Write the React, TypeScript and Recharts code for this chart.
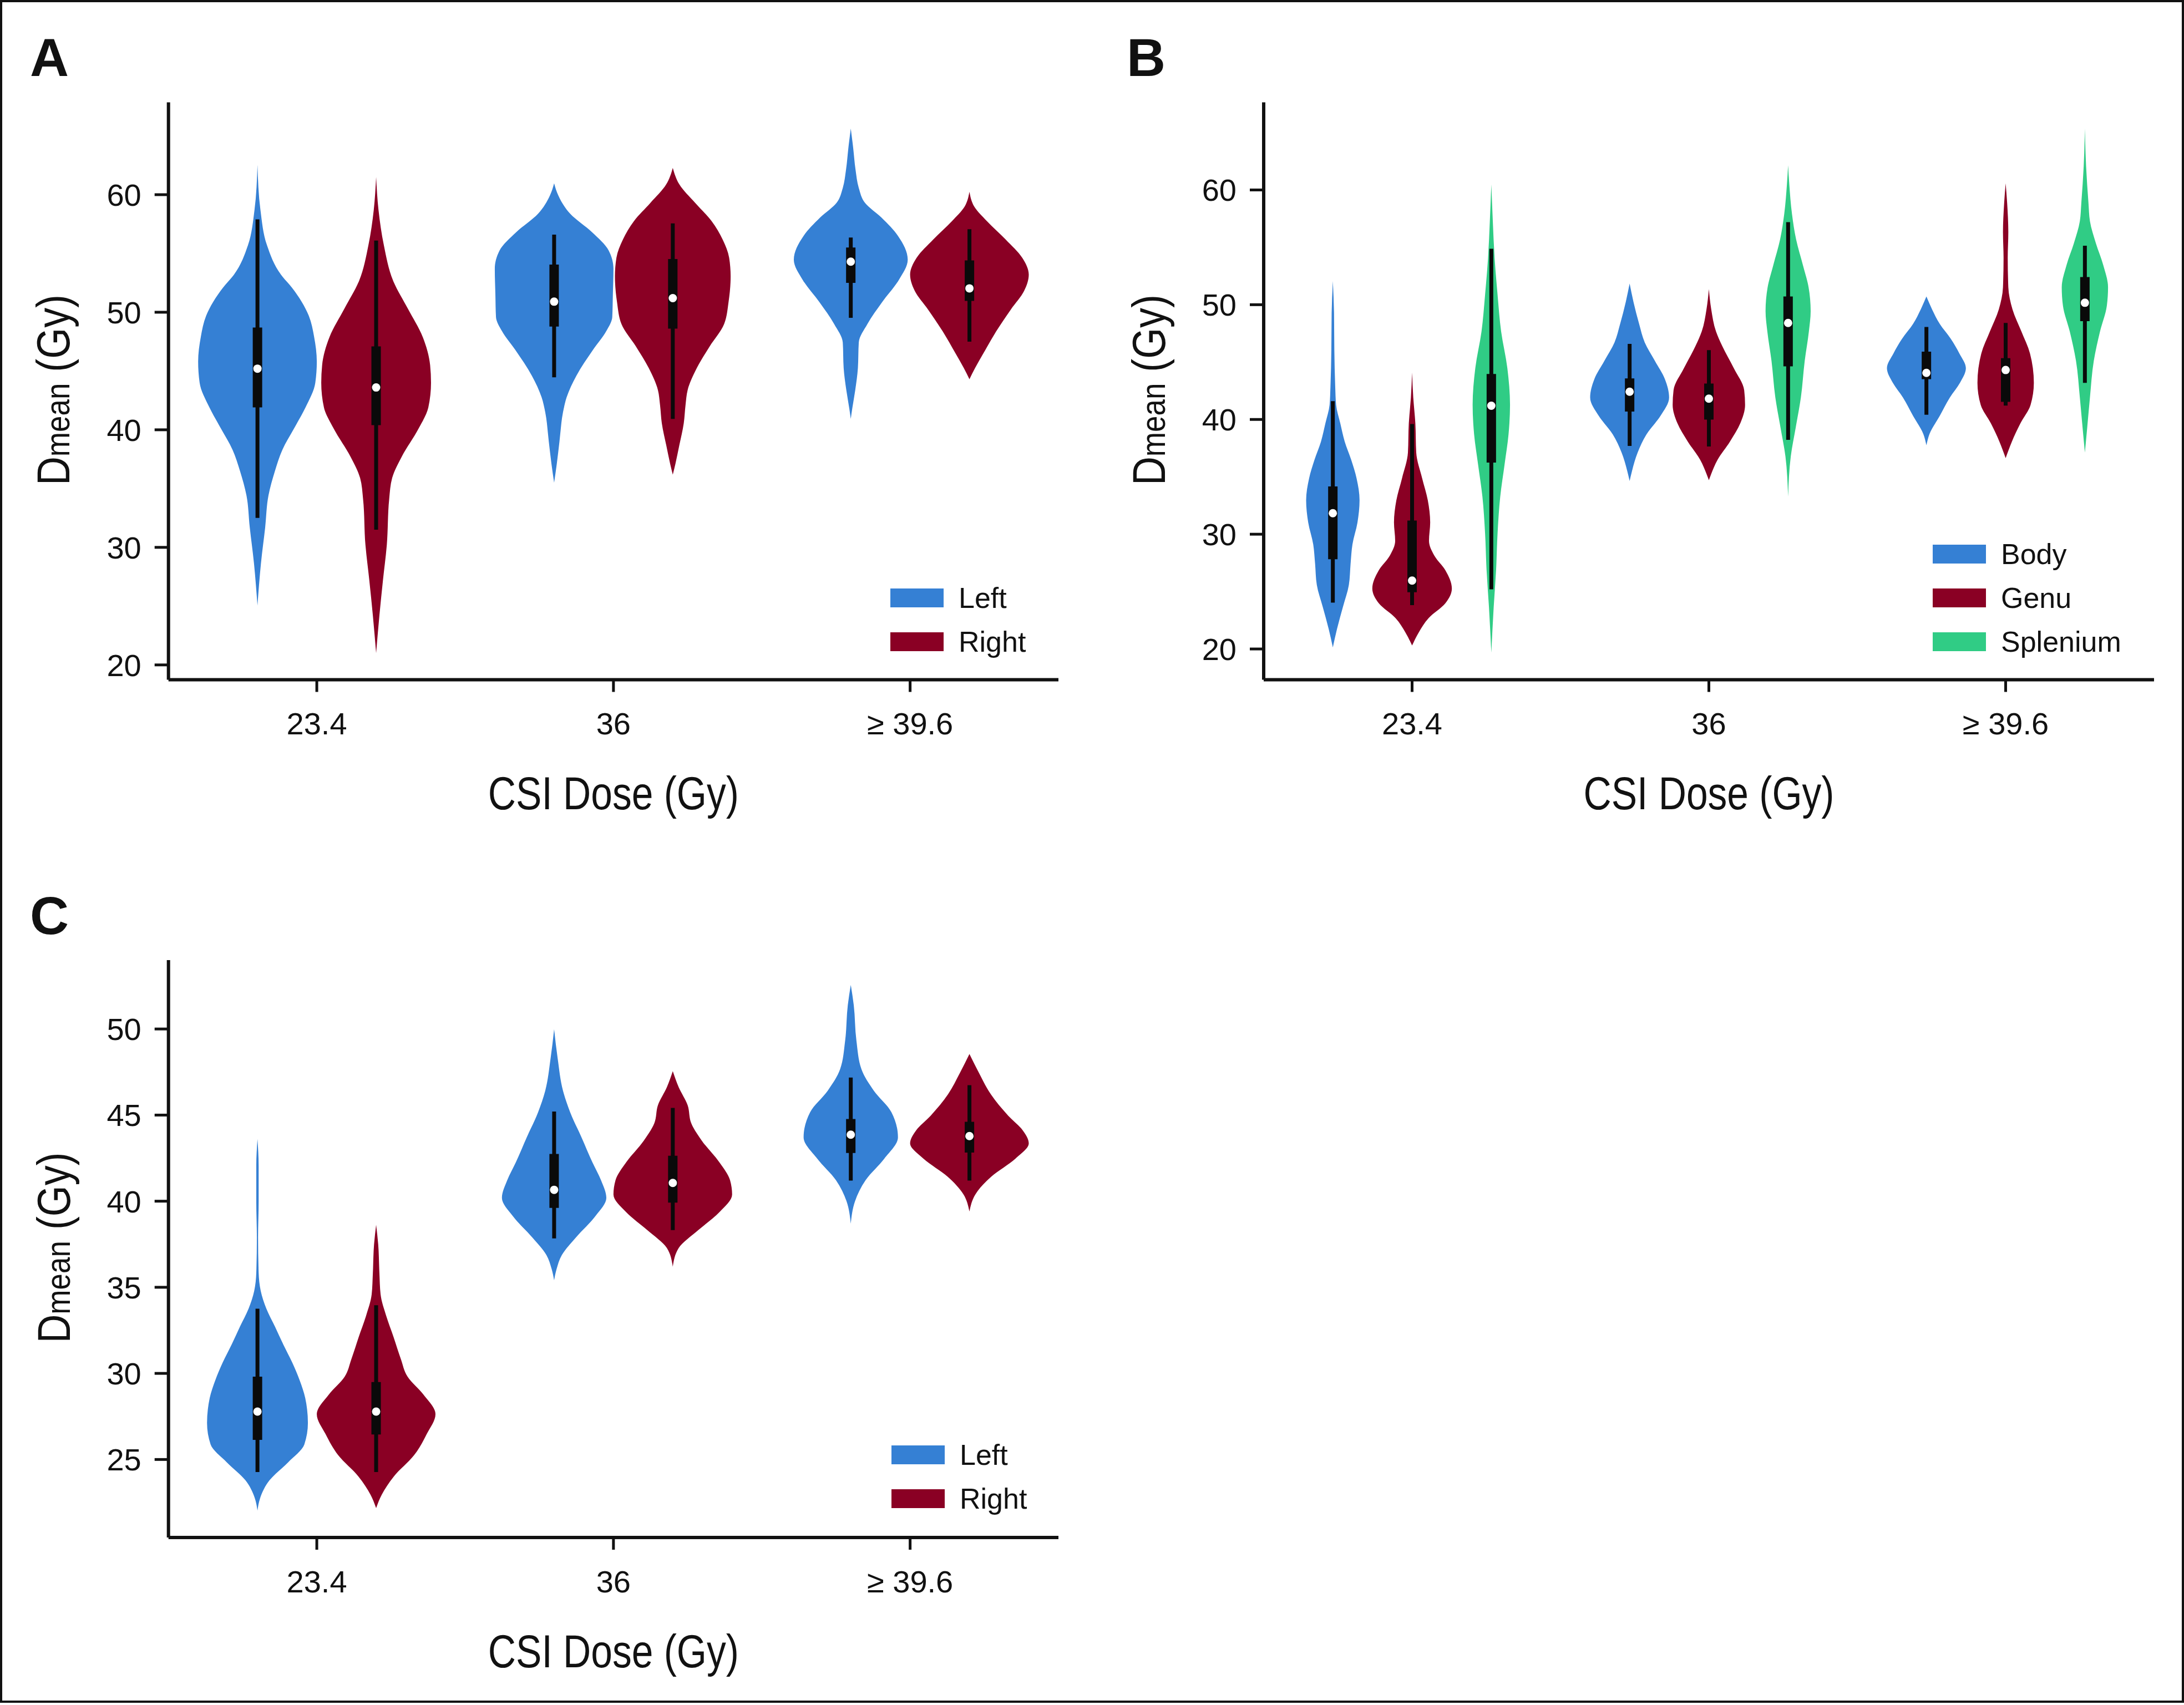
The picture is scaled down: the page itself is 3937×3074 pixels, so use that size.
import React from 'react';
import { ComposedChart, Area, Line, XAxis, YAxis, Legend, Label } from 'recharts';

const FONT = "'Liberation Sans', Arial, Helvetica, sans-serif";
const INK = '#111111';
const BOX = '#0a0a0a';
const BLUE = '#3580d4';
const RED = '#8a0024';
const GREEN = '#30cc85';

// ---------- categories / labels ----------
const DOSE_LABELS = ['23.4', '36', '≥ 39.6'];
const DOSE_INDEX = [0, 1, 2];
const SIDE_NAMES = ['Left', 'Right'];
const REGION_NAMES = ['Body', 'Genu', 'Splenium'];
const AB_TICKS = [20, 30, 40, 50, 60];
const C_TICKS = [25, 30, 35, 40, 45, 50];

// ---------- violin outlines: [Dmean (Gy), half width (category units)] ----------
// Panel A
const A_LEFT_234 = [[62.55,0],[58.7,0.010],[55.7,0.032],[53.2,0.079],[52.1,0.116],[49.7,0.173],[47.9,0.191],[45.8,0.200],[44.0,0.195],[41.9,0.162],[40.1,0.123],[38.3,0.084],[36.5,0.059],[34.4,0.037],[31.7,0.026],[28.7,0.012],[25.05,0]];
const A_LEFT_36 = [[60.97,0],[59.94,0.014],[58.38,0.054],[56.8,0.128],[55.25,0.184],[53.69,0.2],[51.5,0.198],[49.6,0.196],[48.4,0.176],[46.8,0.131],[44.6,0.075],[42.75,0.042],[41.5,0.030],[39.0,0.018],[37.1,0.009],[35.5,0]];
const A_LEFT_396 = [[65.63,0],[64.0,0.008],[62.13,0.016],[60.57,0.027],[59.3,0.048],[58.06,0.103],[56.5,0.159],[54.47,0.192],[52.75,0.162],[50.87,0.106],[49.0,0.056],[47.44,0.027],[45.25,0.024],[43.37,0.015],[41.81,0.005],[40.93,0]];
const A_RIGHT_234 = [[61.5,0],[58.7,0.008],[55.7,0.026],[52.7,0.057],[50.3,0.107],[47.9,0.157],[45.5,0.182],[44.0,0.185],[41.9,0.176],[40.1,0.143],[37.7,0.086],[35.9,0.054],[34.1,0.044],[30.2,0.036],[27.2,0.023],[24.2,0.011],[21.0,0]];
const A_RIGHT_36 = [[62.28,0],[60.88,0.022],[59.31,0.075],[57.75,0.131],[56.19,0.168],[54.63,0.19],[53.06,0.195],[50.87,0.188],[49.0,0.173],[47.12,0.125],[45.25,0.081],[43.37,0.05],[42.12,0.043],[40.56,0.037],[38.68,0.022],[37.12,0.009],[36.18,0]];
const A_RIGHT_396 = [[60.25,0],[59.0,0.016],[57.75,0.059],[56.19,0.122],[54.63,0.178],[53.2,0.2],[51.8,0.184],[50.25,0.14],[48.37,0.09],[46.5,0.047],[45.25,0.019],[44.3,0]];

// Panel B
const B_BODY_234 = [[52.06,0],[49.28,0.004],[46.07,0.005],[42.87,0.008],[41.27,0.011],[39.67,0.025],[38.07,0.04],[36.47,0.062],[34.87,0.08],[32.95,0.09],[31.02,0.083],[29.1,0.066],[27.5,0.06],[25.58,0.054],[23.66,0.034],[21.74,0.014],[20.14,0]];
const B_BODY_36 = [[51.84,0],[50.24,0.013],[48.32,0.032],[46.71,0.051],[45.11,0.085],[43.51,0.119],[41.91,0.133],[40.31,0.104],[38.71,0.057],[37.11,0.027],[35.51,0.008],[34.64,0]];
const B_BODY_396 = [[50.72,0],[49.6,0.019],[48.32,0.045],[47.03,0.082],[45.75,0.111],[44.47,0.133],[43.19,0.113],[41.91,0.079],[40.31,0.045],[38.71,0.01],[37.75,0]];
const B_GENU_234 = [[44.09,0],[41.91,0.004],[39.67,0.011],[37.11,0.014],[34.87,0.034],[32.95,0.053],[31.02,0.061],[29.42,0.057],[28.14,0.075],[26.86,0.112],[25.26,0.134],[23.98,0.112],[22.7,0.056],[21.42,0.022],[20.3,0]];
const B_GENU_36 = [[51.36,0],[49.6,0.008],[47.67,0.024],[46.4,0.045],[44.47,0.084],[42.55,0.119],[41.27,0.122],[39.67,0.106],[38.07,0.071],[36.47,0.029],[35.19,0.007],[34.71,0]];
const B_GENU_396 = [[60.58,0],[58.88,0.005],[56.32,0.009],[54.08,0.007],[51.52,0.009],[49.6,0.023],[47.67,0.053],[45.75,0.082],[43.19,0.095],[41.27,0.084],[39.67,0.05],[38.07,0.021],[36.63,0]];
const B_SPL_234 = [[60.48,0],[57.28,0.005],[54.08,0.011],[50.88,0.021],[47.67,0.033],[44.47,0.054],[41.27,0.063],[38.71,0.058],[36.15,0.045],[33.27,0.03],[30.06,0.021],[26.86,0.016],[23.66,0.008],[19.66,0]];
const B_SPL_36 = [[62.15,0],[60.48,0.004],[57.92,0.013],[55.68,0.027],[53.44,0.05],[51.52,0.069],[49.44,0.076],[47.67,0.07],[45.11,0.056],[41.91,0.043],[39.35,0.026],[36.79,0.009],[33.27,0]];
const B_SPL_396 = [[65.35,0],[62.08,0.004],[58.88,0.012],[57.28,0.017],[55.36,0.037],[53.44,0.062],[51.52,0.078],[49.92,0.074],[47.67,0.051],[45.11,0.03],[41.91,0.017],[39.35,0.008],[37.11,0]];

// Panel C
const C_LEFT_234 = [[43.61,0],[42.05,0.004],[39.98,0.004],[37.9,0.002],[35.83,0.004],[34.79,0.011],[33.76,0.03],[32.72,0.059],[31.68,0.087],[30.64,0.117],[29.61,0.142],[28.57,0.161],[27.12,0.17],[25.87,0.158],[24.83,0.103],[23.8,0.041],[22.76,0.009],[22.03,0]];
const C_LEFT_36 = [[49.98,0],[48.28,0.012],[46.41,0.03],[45.17,0.054],[43.72,0.092],[42.26,0.129],[41.22,0.158],[40.19,0.176],[39.15,0.14],[37.9,0.074],[36.87,0.026],[36.04,0.008],[35.41,0]];
const C_LEFT_396 = [[52.56,0],[51.39,0.01],[49.32,0.019],[47.66,0.036],[46.41,0.078],[45.17,0.137],[43.71,0.159],[42.47,0.113],[41.22,0.05],[39.98,0.014],[38.69,0]];
const C_RIGHT_234 = [[38.63,0],[37.49,0.007],[35.83,0.011],[34.59,0.015],[33.34,0.034],[32.1,0.059],[30.85,0.083],[29.81,0.106],[28.78,0.159],[27.63,0.2],[26.49,0.171],[25.25,0.128],[24.0,0.059],[22.96,0.019],[22.18,0]];
const C_RIGHT_36 = [[47.55,0],[46.62,0.02],[45.58,0.05],[44.54,0.062],[43.51,0.098],[42.26,0.157],[41.22,0.193],[40.39,0.2],[39.36,0.157],[38.32,0.086],[37.28,0.02],[36.2,0]];
const C_RIGHT_396 = [[48.55,0],[47.45,0.032],[46.21,0.072],[44.96,0.131],[44.13,0.179],[43.36,0.2],[42.47,0.155],[41.43,0.074],[40.39,0.02],[39.4,0]];

// ---------- box statistics: [whisker low, Q1, median, Q3, whisker high] per dose ----------
const A_LEFT_STATS = [[32.5,41.9,45.2,48.7,57.9],[44.46,48.78,50.9,54.06,56.6],[49.53,52.5,54.3,55.5,56.35]];
const A_RIGHT_STATS = [[31.5,40.4,43.6,47.1,56.1],[40.93,48.6,51.2,54.53,57.56],[47.5,50.97,52.03,54.41,57.06]];
const B_BODY_STATS = [[24.04,27.82,31.83,34.16,41.59],[37.69,40.69,42.42,43.58,46.59],[40.41,43.51,44.06,45.91,48.06]];
const B_GENU_STATS = [[23.82,24.94,25.96,31.19,39.6],[37.65,39.99,41.81,43.13,46.04],[41.21,41.53,44.31,45.34,48.41]];
const B_SPL_STATS = [[25.2,36.24,41.2,43.96,54.88],[38.23,44.63,48.41,50.72,57.19],[43.19,48.57,50.17,52.41,55.14]];
const C_LEFT_STATS = [[24.27,26.14,27.78,29.81,33.76],[37.84,39.61,40.66,42.74,45.21],[41.2,42.8,43.86,44.77,47.18]];
const C_RIGHT_STATS = [[24.27,26.45,27.78,29.5,33.96],[38.32,39.92,41.06,42.64,45.42],[41.2,42.82,43.78,44.61,46.74]];

// dodge offsets within a dose category
const TWO_OFFSETS = [-0.2, 0.2];
const THREE_OFFSETS = [-0.267, 0, 0.267];

type Violin = { outline: number[][]; stats: number[]; pos: number; color: string };

function makeViolins(outlines: number[][][][], stats: number[][][], offsets: number[], colors: string[]): Violin[] {
  const out: Violin[] = [];
  outlines.forEach((group, g) => {
    group.forEach((outline, d) => {
      out.push({ outline, stats: stats[g][d], pos: DOSE_INDEX[d] + offsets[g], color: colors[g] });
    });
  });
  return out;
}

function buildRows(violins: Violin[]) {
  const rows: any[] = [];
  violins.forEach((v, k) => {
    v.outline.forEach(([y, hw]) => rows.push({ y, ['v' + k]: [v.pos - hw, v.pos + hw] }));
    rows.push({ y: v.stats[0], ['w' + k]: v.pos }, { y: v.stats[4], ['w' + k]: v.pos });
    rows.push({ y: v.stats[1], ['b' + k]: v.pos }, { y: v.stats[3], ['b' + k]: v.pos });
    rows.push({ y: v.stats[2], ['m' + k]: v.pos });
  });
  return rows;
}

const XTitle = (props: any) => {
  const vb = props.viewBox || {};
  const cx = vb.x + vb.width / 2;
  const y = vb.y + 233.5;
  return (
    <text x={cx} y={y} textAnchor="middle" fontSize={84} fontFamily={FONT} fill={INK}
      textLength={452} lengthAdjust="spacingAndGlyphs">CSI Dose (Gy)</text>
  );
};

const YTitle = (props: any) => {
  const vb = props.viewBox || {};
  const x = vb.x + vb.width - 178.2;
  const cy = vb.y + vb.height / 2 - 2;
  return (
    <text x={x} y={cy} transform={`rotate(-90 ${x} ${cy})`} textAnchor="middle" fontFamily={FONT} fill={INK}
      textLength={344} lengthAdjust="spacingAndGlyphs">
      <tspan fontSize={84}>D</tspan>
      <tspan fontSize={62}>mean</tspan>
      <tspan fontSize={84}> (Gy)</tspan>
    </text>
  );
};

function makeLegend(names: string[], colors: string[]) {
  return () => (
    <div style={{ fontFamily: FONT, fontSize: 52, color: INK }}>
      {names.map((n, i) => (
        <div key={n} style={{ display: 'flex', alignItems: 'flex-start', height: 34, marginBottom: 45 }}>
          <div style={{ width: 96, height: 34, background: colors[i] }} />
          <span style={{ marginLeft: 27, lineHeight: '34px', whiteSpace: 'nowrap' }}>{n}</span>
        </div>
      ))}
    </div>
  );
}

type PanelProps = {
  violins: Violin[];
  width: number;
  height: number;
  margin: { top: number; right: number; bottom: number; left: number };
  yDomain: [number, number];
  yTicks: number[];
  legendNames: string[];
  legendColors: string[];
  legendLeft: number;
  legendTop: number;
};

function ViolinPanel(p: PanelProps) {
  const rows = buildRows(p.violins);
  const tickStyle = { fontSize: 56, fill: INK, fontFamily: FONT };
  return (
    <ComposedChart width={p.width} height={p.height} data={rows} layout="vertical" margin={p.margin}>
      <XAxis type="number" domain={[-0.5, 2.5]} ticks={DOSE_INDEX} interval={0} allowDataOverflow
        tickFormatter={(i: number) => DOSE_LABELS[i]} height={100} tickSize={22} tickMargin={37}
        axisLine={{ stroke: INK, strokeWidth: 6 }} tickLine={{ stroke: INK, strokeWidth: 5 }} tick={tickStyle}
        label={<Label content={XTitle} />} />
      <YAxis type="number" dataKey="y" domain={p.yDomain} ticks={p.yTicks} interval={0} allowDataOverflow reversed
        width={100} tickSize={25} tickMargin={24}
        axisLine={{ stroke: INK, strokeWidth: 6 }} tickLine={{ stroke: INK, strokeWidth: 5 }} tick={tickStyle}
        label={<Label content={YTitle} />} />
      {p.violins.map((v, k) => (
        <Area key={'v' + k} dataKey={'v' + k} type="monotone" fill={v.color} fillOpacity={1} stroke="none"
          dot={false} activeDot={false} isAnimationActive={false} legendType="none" />
      ))}
      {p.violins.map((v, k) => (
        <Line key={'w' + k} dataKey={'w' + k} type="linear" stroke={BOX} strokeWidth={7} dot={false}
          activeDot={false} isAnimationActive={false} legendType="none" />
      ))}
      {p.violins.map((v, k) => (
        <Line key={'b' + k} dataKey={'b' + k} type="linear" stroke={BOX} strokeWidth={17} dot={false}
          activeDot={false} isAnimationActive={false} legendType="none" />
      ))}
      {p.violins.map((v, k) => (
        <Line key={'m' + k} dataKey={'m' + k} type="linear" stroke="none"
          dot={{ r: 7.5, fill: '#ffffff', stroke: 'none' }}
          activeDot={false} isAnimationActive={false} legendType="none" />
      ))}
      <Legend layout="horizontal" verticalAlign="middle" align="center"
        content={makeLegend(p.legendNames, p.legendColors)}
        wrapperStyle={{ left: p.legendLeft, top: p.legendTop, width: 420, height: 240 }} />
    </ComposedChart>
  );
}

const violinsA = makeViolins(
  [[A_LEFT_234, A_LEFT_36, A_LEFT_396], [A_RIGHT_234, A_RIGHT_36, A_RIGHT_396]],
  [A_LEFT_STATS, A_RIGHT_STATS], TWO_OFFSETS, [BLUE, RED]);
const violinsB = makeViolins(
  [[B_BODY_234, B_BODY_36, B_BODY_396], [B_GENU_234, B_GENU_36, B_GENU_396], [B_SPL_234, B_SPL_36, B_SPL_396]],
  [B_BODY_STATS, B_GENU_STATS, B_SPL_STATS], THREE_OFFSETS, [BLUE, RED, GREEN]);
const violinsC = makeViolins(
  [[C_LEFT_234, C_LEFT_36, C_LEFT_396], [C_RIGHT_234, C_RIGHT_36, C_RIGHT_396]],
  [C_LEFT_STATS, C_RIGHT_STATS], TWO_OFFSETS, [BLUE, RED]);

export default function App() {
  return (
    <div style={{ position: 'absolute', left: 0, top: 0, width: 3937, height: 3074, background: '#ffffff', overflow: 'hidden' }}>
      <div style={{ position: 'absolute', left: 0, top: 0, width: 3937, height: 3070, border: '4px solid #111', boxSizing: 'border-box' }} />
      <div style={{ position: 'absolute', left: 0, top: 0 }}>
        <ViolinPanel violins={violinsA} width={1940} height={1500}
          margin={{ top: 184.6, right: 32, bottom: 174.5, left: 203.7 }}
          yDomain={[18.74, 67.85]} yTicks={AB_TICKS}
          legendNames={SIDE_NAMES} legendColors={[BLUE, RED]} legendLeft={1605} legendTop={1061} />
      </div>
      <div style={{ position: 'absolute', left: 1968, top: 0 }}>
        <ViolinPanel violins={violinsB} width={1969} height={1500}
          margin={{ top: 184.6, right: 54, bottom: 174.5, left: 210 }}
          yDomain={[17.32, 67.63]} yTicks={AB_TICKS}
          legendNames={REGION_NAMES} legendColors={[BLUE, RED, GREEN]} legendLeft={1516} legendTop={981.5} />
      </div>
      <div style={{ position: 'absolute', left: 0, top: 1500 }}>
        <ViolinPanel violins={violinsC} width={1940} height={1574}
          margin={{ top: 231, right: 32, bottom: 202, left: 203.7 }}
          yDomain={[20.47, 54.0]} yTicks={C_TICKS}
          legendNames={SIDE_NAMES} legendColors={[BLUE, RED]} legendLeft={1607} legendTop={1106} />
      </div>
      <svg width={3937} height={3074} style={{ position: 'absolute', left: 0, top: 0, pointerEvents: 'none' }}>
        <text x={54} y={137} fontSize={97} fontWeight="bold" fontFamily={FONT} fill={INK}>A</text>
        <text x={2031} y={137} fontSize={97} fontWeight="bold" fontFamily={FONT} fill={INK}>B</text>
        <text x={54} y={1684} fontSize={97} fontWeight="bold" fontFamily={FONT} fill={INK}>C</text>
      </svg>
    </div>
  );
}
